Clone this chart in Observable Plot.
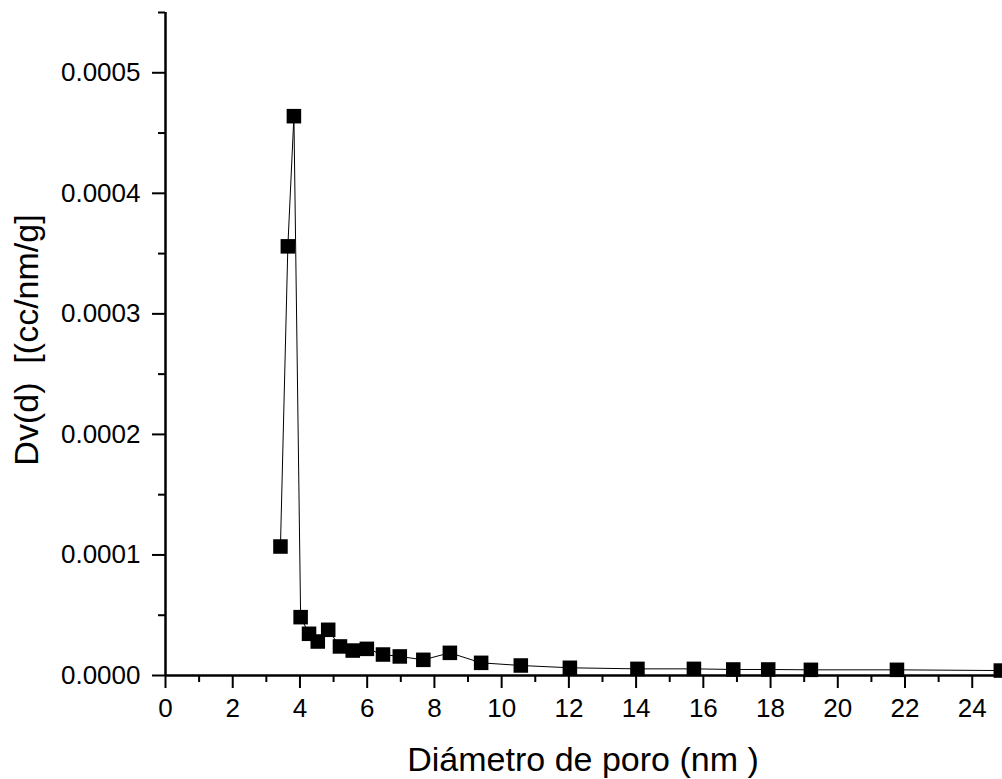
<!DOCTYPE html>
<html>
<head>
<meta charset="utf-8">
<script src="https://cdn.jsdelivr.net/npm/d3@7"></script>
<script src="https://cdn.jsdelivr.net/npm/@observablehq/plot@0.6"></script>
<style>
  html, body { margin: 0; padding: 0; background: #fff; }
  #chart { width: 1002px; height: 779px; overflow: hidden; }
  svg { font-family: "Liberation Sans", Arial, sans-serif; }
</style>
</head>
<body>
<div id="chart"></div>
<script>
// Pore diameter (nm)
const diameters = [3.42, 3.64, 3.82, 4.02, 4.27, 4.53, 4.84, 5.19, 5.57, 5.99, 6.47, 6.97, 7.67, 8.46, 9.39, 10.57, 12.03, 14.04, 15.72, 16.89, 17.93, 19.2, 21.76, 24.85];
// Dv(d) values (cc/nm/g)
const dvValues = [0.000107, 0.000356, 0.000464, 0.0000484, 0.0000346, 0.0000282, 0.0000379, 0.0000241, 0.0000207, 0.0000221, 0.0000174, 0.0000158, 0.000013, 0.0000188, 0.0000105, 0.0000083, 0.0000064, 0.0000055, 0.0000055, 0.000005, 0.000005, 0.0000047, 0.0000047, 0.0000041];
const xMajorTicks = [0, 2, 4, 6, 8, 10, 12, 14, 16, 18, 20, 22, 24];
const xMinorTicks = [1, 3, 5, 7, 9, 11, 13, 15, 17, 19, 21, 23];
const yMajorTicks = [0, 0.0001, 0.0002, 0.0003, 0.0004, 0.0005];
const yMinorTicks = [0.00005, 0.00015, 0.00025, 0.00035, 0.00045, 0.00055];
const xTitle = "Diámetro de poro (nm )";
const yTitle = "Dv(d)  [(cc/nm/g]";

const data = diameters.map((d, i) => ({d, v: dvValues[i]}));

const W = 1002, H = 779;
const mL = 165, mR = 0, mT = 12, mB = 104;

const plot = Plot.plot({
  width: W,
  height: H,
  marginLeft: mL,
  marginRight: mR,
  marginTop: mT,
  marginBottom: mB,
  style: {fontFamily: '"Liberation Sans", Arial, sans-serif', fontSize: "26px", color: "#000", background: "#fff"},
  x: {domain: [0, 24.9]},
  y: {domain: [0, 0.00055]},
  marks: [
    Plot.axisX(xMajorTicks, {tickSize: 13, tickPadding: 10, strokeWidth: 2, fontSize: 26, label: null, tickFormat: d => String(d)}),
    Plot.axisX(xMinorTicks, {tickSize: 7, strokeWidth: 2, label: null, tickFormat: null, text: null}),
    Plot.axisY(yMajorTicks, {tickSize: 13, tickPadding: 12, strokeWidth: 2, fontSize: 26, label: null, tickFormat: d3.format(".4f")}),
    Plot.axisY(yMinorTicks, {tickSize: 7, strokeWidth: 2, label: null, tickFormat: null, text: null}),
    Plot.ruleY([0], {stroke: "#000", strokeWidth: 2.5}),
    Plot.ruleX([0], {stroke: "#000", strokeWidth: 2.5}),
    Plot.line(data, {x: "d", y: "v", stroke: "#000", strokeWidth: 1}),
    Plot.dot(data, {x: "d", y: "v", symbol: "square", r: 8.2, fill: "#000", stroke: "none"})
  ]
});

const svg = d3.select(plot);
svg.append("text")
  .attr("x", 583)
  .attr("y", 771)
  .attr("text-anchor", "middle")
  .attr("font-size", 34)
  .attr("fill", "#000")
  .text(xTitle);
svg.append("text")
  .attr("transform", `translate(38, 340) rotate(-90)`)
  .attr("text-anchor", "middle")
  .attr("font-size", 34)
  .attr("fill", "#000")
  .style("white-space", "pre")
  .attr("xml:space", "preserve")
  .text(yTitle);

document.getElementById("chart").appendChild(plot);
</script>
</body>
</html>
